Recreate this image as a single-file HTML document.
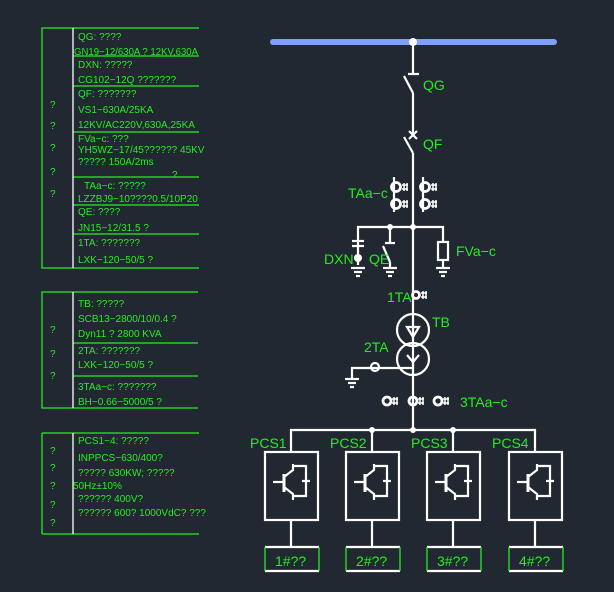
<!DOCTYPE html>
<html><head><meta charset="utf-8"><style>
html,body{margin:0;padding:0;background:#222831;}
svg{display:block}
text{font-family:"Liberation Sans","DejaVu Sans",sans-serif;fill:#22ee22;}
.t{font-size:10px}
.l{font-size:14px}
</style></head><body>
<svg width="614" height="592" viewBox="0 0 614 592" xmlns="http://www.w3.org/2000/svg">
<rect width="614" height="592" fill="#222831"/>
<g stroke="#22ee22" stroke-width="1.3" fill="none">
<polyline points="199,28 42,28 42,268 199,268"/>
<line x1="73" y1="56" x2="199" y2="56"/>
<line x1="73" y1="86" x2="199" y2="86"/>
<line x1="73" y1="132" x2="199" y2="132"/>
<line x1="73" y1="177" x2="199" y2="177"/>
<line x1="73" y1="205" x2="199" y2="205"/>
<line x1="73" y1="234" x2="199" y2="234"/>
<polyline points="198,292 42,292 42,408 198,408"/>
<line x1="73" y1="343" x2="198" y2="343"/>
<line x1="73" y1="376" x2="198" y2="376"/>
<line x1="42" y1="433" x2="199" y2="433"/>
<line x1="42" y1="534" x2="199" y2="534"/>
<line x1="42" y1="433" x2="42" y2="534"/>
</g>
<g stroke="#fff" stroke-width="1.3">
<line x1="73" y1="28" x2="73" y2="268"/>
<line x1="73" y1="292" x2="73" y2="408"/>
<line x1="73" y1="433" x2="73" y2="534"/>
</g>
<g class="t">
<text x="78" y="40">QG: ????</text>
<text x="74" y="55" textLength="124" lengthAdjust="spacingAndGlyphs">GN19−12/630A  ? 12KV,630A</text>
<text x="78" y="68">DXN: ?????</text>
<text x="78" y="83">CG102−12Q  ???????</text>
<text x="78" y="97">QF: ???????</text>
<text x="78" y="113">VS1−630A/25KA</text>
<text x="78" y="128">12KV/AC220V,630A,25KA</text>
<text x="78" y="142">FVa−c: ???</text>
<text x="78" y="153">YH5WZ−17/45?????? 45KV</text>
<text x="78" y="165">?????       150A/2ms</text>
<text x="172" y="178">?</text>
<text x="84" y="189">TAa−c: ?????</text>
<text x="78" y="202">LZZBJ9−10????0.5/10P20</text>
<text x="78" y="215">QE: ????</text>
<text x="78" y="231">JN15−12/31.5   ?</text>
<text x="78" y="246">1TA: ???????</text>
<text x="78" y="263">LXK−120−50/5   ?</text>
<text x="50" y="108">?</text><text x="50" y="129">?</text><text x="50" y="151">?</text><text x="50" y="175">?</text><text x="50" y="197">?</text>
<text x="78" y="307">TB: ?????</text>
<text x="78" y="322">SCB13−2800/10/0.4     ?</text>
<text x="78" y="337">Dyn11 ? 2800 KVA</text>
<text x="78" y="354">2TA: ???????</text>
<text x="78" y="368">LXK−120−50/5   ?</text>
<text x="78" y="390">3TAa−c: ???????</text>
<text x="78" y="405">BH−0.66−5000/5   ?</text>
<text x="50" y="333">?</text><text x="50" y="357">?</text><text x="50" y="379">?</text>
<text x="78" y="444">PCS1−4: ?????</text>
<text x="78" y="461">INPPCS−630/400?</text>
<text x="78" y="476">?????      630KW; ?????</text>
<text x="73" y="489">50Hz±10%</text>
<text x="78" y="502">??????        400V?</text>
<text x="78" y="516">??????        600? 1000VdC? ???</text>
<text x="50" y="454">?</text><text x="50" y="471">?</text><text x="50" y="489">?</text><text x="50" y="508">?</text><text x="50" y="526">?</text>
</g>
<line x1="273" y1="42" x2="554" y2="42" stroke="#80a0f8" stroke-width="6" stroke-linecap="round"/>
<circle cx="413" cy="42" r="4" fill="#fff"/>
<g stroke="#fff" stroke-width="2.2" fill="none">
<line x1="413" y1="42" x2="413" y2="73"/>
<line x1="408" y1="74" x2="419" y2="74"/>
<line x1="404" y1="76" x2="413" y2="93"/>
<line x1="413" y1="93" x2="413" y2="134"/>
<line x1="409" y1="131" x2="417" y2="139"/><line x1="417" y1="131" x2="409" y2="139"/>
<line x1="404" y1="137" x2="413" y2="153"/>
<line x1="413" y1="153" x2="413" y2="430"/>
<line x1="394" y1="177" x2="394" y2="212"/>
<line x1="423" y1="177" x2="423" y2="212"/>
<g stroke-width="2.8">
<circle cx="396" cy="187" r="4.5"/><circle cx="396" cy="204" r="4.5"/>
<circle cx="425" cy="187" r="4.5"/><circle cx="425" cy="204" r="4.5"/>
</g>
<g stroke-width="1.5">
<path d="M402 185h6M402 189h6M404 183v8M407 183v8"/>
<path d="M402 202h6M402 206h6M404 200v8M407 200v8"/>
<path d="M431 185h6M431 189h6M433 183v8M436 183v8"/>
<path d="M431 202h6M431 206h6M433 200v8M436 200v8"/>
</g>
<polyline points="358,265 358,227 443,227 443,242"/>
<line x1="390" y1="227" x2="390" y2="243"/>
<line x1="385" y1="243" x2="395" y2="243"/>
<line x1="383" y1="246" x2="390" y2="262"/>
<line x1="390" y1="262" x2="390" y2="268"/>
<line x1="352" y1="241" x2="364" y2="241"/><line x1="352" y1="246" x2="364" y2="246"/>
<rect x="438" y="242" width="10" height="18"/>
<line x1="443" y1="260" x2="443" y2="268"/>
<line x1="351" y1="268" x2="365" y2="268"/><line x1="354" y1="272" x2="362" y2="272"/><line x1="356" y1="276" x2="360" y2="276"/>
<line x1="383" y1="268" x2="397" y2="268"/><line x1="386" y1="272" x2="394" y2="272"/><line x1="388" y1="276" x2="392" y2="276"/>
<line x1="436" y1="268" x2="450" y2="268"/><line x1="439" y1="272" x2="447" y2="272"/><line x1="441" y1="276" x2="445" y2="276"/>
<circle cx="416" cy="295" r="3.5" stroke-width="2.8"/>
<path d="M421 293h6M421 297h6M423 291v8M426 291v8" stroke-width="1.5"/>
<circle cx="413" cy="330" r="16"/>
<circle cx="413" cy="359" r="16"/>
<polygon points="407,327 419,327 413,337"/>
<polyline points="407,355 413,362 419,355"/><line x1="413" y1="362" x2="413" y2="368"/>
<polyline points="413,368 352,368 352,378"/>
<circle cx="375" cy="367" r="4"/>
<line x1="345" y1="379" x2="359" y2="379"/><line x1="348" y1="383" x2="356" y2="383"/><line x1="350" y1="387" x2="354" y2="387"/>
<g stroke-width="2.8"><circle cx="387" cy="401" r="4"/><circle cx="413" cy="401" r="4"/><circle cx="438" cy="401" r="4"/></g>
<path d="M392 399h6M392 403h6M394 397v8M397 397v8M418 399h6M418 403h6M420 397v8M423 397v8M443 399h6M443 403h6M445 397v8M448 397v8" stroke-width="1.5"/>
<polyline points="291,452 291,430 535,430 535,452"/>
<line x1="372" y1="430" x2="372" y2="452"/>
<line x1="453" y1="430" x2="453" y2="452"/>
</g>
<g fill="#fff">
<circle cx="413" cy="227" r="3"/><circle cx="390" cy="227" r="3"/>
<circle cx="358" cy="258" r="4"/>
<circle cx="372" cy="430" r="3"/><circle cx="413" cy="430" r="3"/><circle cx="453" cy="430" r="3"/>
</g>
<g class="l">
<text x="423" y="90">QG</text>
<text x="423" y="149">QF</text>
<text x="348" y="198">TAa−c</text>
<text x="456" y="256">FVa−c</text>
<text x="324" y="264">DXN</text>
<text x="369" y="264">QE</text>
<text x="387" y="302">1TA</text>
<text x="432" y="327">TB</text>
<text x="364" y="352">2TA</text>
<text x="460" y="407">3TAa−c</text>
<text x="250" y="448">PCS1</text>
<text x="330" y="448">PCS2</text>
<text x="411" y="448">PCS3</text>
<text x="492" y="448">PCS4</text>
</g>
<g id="u">
<g stroke="#fff" stroke-width="2.2" fill="none">
<rect x="265" y="452" width="53" height="68"/>
<line x1="291" y1="520" x2="291" y2="547"/>
<line x1="273" y1="482" x2="284" y2="482"/>
<line x1="284" y1="474" x2="284" y2="492" stroke-width="3"/>
<polyline points="284,477 293,470 293,464"/>
<polyline points="284,487 293,494 293,500"/>
<polyline points="293,466 306,466 306,496 293,496"/>
<line x1="302" y1="481" x2="310" y2="481"/>
<line x1="265" y1="547" x2="319" y2="547"/><line x1="265" y1="571" x2="319" y2="571"/>
</g>
<line x1="265" y1="547" x2="265" y2="571" stroke="#22ee22" stroke-width="1.3"/>
<line x1="319" y1="547" x2="319" y2="571" stroke="#22ee22" stroke-width="1.3"/>
</g>
<use href="#u" x="81"/><use href="#u" x="162"/><use href="#u" x="244"/>
<g class="l">
<text x="275" y="566">1#??</text>
<text x="356" y="566">2#??</text>
<text x="437" y="566">3#??</text>
<text x="519" y="566">4#??</text>
</g>
</svg>
</body></html>
